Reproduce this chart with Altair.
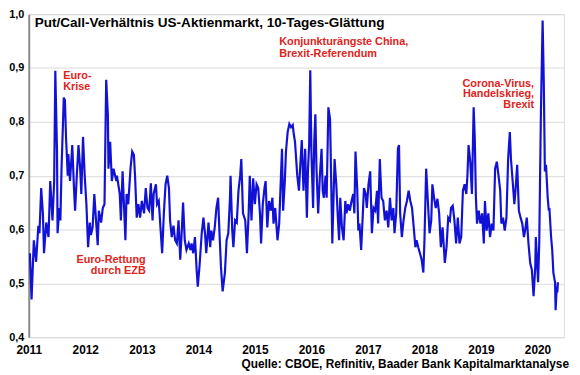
import altair as alt
import pandas as pd

# --- data (decimal year, put/call ratio) ---
years = [
    2011.02, 2011.05, 2011.09, 2011.13, 2011.17, 2011.19, 2011.22, 2011.25, 2011.27, 2011.31,
    2011.35, 2011.38, 2011.42, 2011.45, 2011.47, 2011.50, 2011.51, 2011.54, 2011.56, 2011.58,
    2011.62, 2011.64, 2011.66, 2011.69, 2011.70, 2011.73, 2011.77, 2011.80, 2011.82, 2011.85,
    2011.88, 2011.91, 2011.93, 2011.96, 2011.99, 2012.02, 2012.05, 2012.08, 2012.10, 2012.13,
    2012.16, 2012.19, 2012.22, 2012.24, 2012.28, 2012.31, 2012.34, 2012.37, 2012.40, 2012.41,
    2012.44, 2012.47, 2012.50, 2012.55, 2012.56, 2012.61, 2012.63, 2012.66, 2012.71, 2012.73,
    2012.76, 2012.80, 2012.83, 2012.86, 2012.88, 2012.91, 2012.94, 2012.97, 2013.00, 2013.04,
    2013.07, 2013.10, 2013.13, 2013.16, 2013.19, 2013.21, 2013.25, 2013.27, 2013.30, 2013.33,
    2013.36, 2013.39, 2013.42, 2013.45, 2013.48, 2013.50, 2013.53, 2013.56, 2013.59, 2013.62,
    2013.65, 2013.68, 2013.71, 2013.73, 2013.76, 2013.79, 2013.83, 2013.86, 2013.88, 2013.91,
    2013.94, 2013.97, 2013.99, 2014.02, 2014.06, 2014.09, 2014.12, 2014.14, 2014.18, 2014.21,
    2014.23, 2014.26, 2014.29, 2014.32, 2014.35, 2014.37, 2014.40, 2014.43, 2014.47, 2014.50,
    2014.53, 2014.56, 2014.57, 2014.60, 2014.62, 2014.65, 2014.68, 2014.71, 2014.74, 2014.76,
    2014.79, 2014.83, 2014.86, 2014.89, 2014.91, 2014.94, 2014.97, 2015.00, 2015.03, 2015.06,
    2015.09, 2015.11, 2015.14, 2015.17, 2015.19, 2015.22, 2015.25, 2015.28, 2015.31, 2015.33,
    2015.36, 2015.40, 2015.43, 2015.46, 2015.48, 2015.50, 2015.53, 2015.55, 2015.58, 2015.61,
    2015.64, 2015.67, 2015.69, 2015.71, 2015.75, 2015.78, 2015.80, 2015.83, 2015.86, 2015.89,
    2015.92, 2015.94, 2015.96, 2015.98, 2016.00, 2016.03, 2016.05, 2016.07, 2016.09, 2016.12,
    2016.15, 2016.18, 2016.20, 2016.22, 2016.25, 2016.27, 2016.30, 2016.33, 2016.35, 2016.37,
    2016.39, 2016.41, 2016.44, 2016.47, 2016.49, 2016.51, 2016.54, 2016.57, 2016.60, 2016.62,
    2016.65, 2016.68, 2016.71, 2016.74, 2016.76, 2016.78, 2016.81, 2016.83, 2016.85, 2016.88,
    2016.91, 2016.93, 2016.96, 2016.98, 2017.01, 2017.04, 2017.07, 2017.10, 2017.13, 2017.16,
    2017.18, 2017.21, 2017.24, 2017.27, 2017.30, 2017.33, 2017.36, 2017.39, 2017.42, 2017.45,
    2017.47, 2017.50, 2017.53, 2017.55, 2017.57, 2017.60, 2017.63, 2017.66, 2017.69, 2017.72,
    2017.75, 2017.78, 2017.81, 2017.84, 2017.86, 2017.89, 2017.92, 2017.95, 2017.98, 2018.00,
    2018.03, 2018.06, 2018.09, 2018.12, 2018.14, 2018.17, 2018.20, 2018.23, 2018.26, 2018.29,
    2018.32, 2018.35, 2018.36, 2018.39, 2018.42, 2018.45, 2018.47, 2018.50, 2018.53, 2018.56,
    2018.59, 2018.62, 2018.65, 2018.68, 2018.71, 2018.74, 2018.76, 2018.78, 2018.81, 2018.84,
    2018.87, 2018.89, 2018.91, 2018.93, 2018.96, 2018.99, 2019.02, 2019.05, 2019.07, 2019.10,
    2019.13, 2019.16, 2019.19, 2019.22, 2019.25, 2019.28, 2019.31, 2019.34, 2019.36, 2019.39,
    2019.42, 2019.45, 2019.48, 2019.51, 2019.53, 2019.56, 2019.59, 2019.61, 2019.64, 2019.67,
    2019.70, 2019.73, 2019.76, 2019.78, 2019.81, 2019.84, 2019.87, 2019.90, 2019.93, 2019.96,
    2019.97, 2020.01, 2020.03, 2020.06, 2020.09, 2020.11, 2020.13, 2020.15, 2020.18, 2020.20,
    2020.21, 2020.24, 2020.26, 2020.28, 2020.31, 2020.32, 2020.34, 2020.35, 2020.36,
]

put_call = [
    0.556, 0.470, 0.580, 0.540, 0.607, 0.593, 0.677, 0.630, 0.556, 0.613,
    0.586, 0.690, 0.617, 0.690, 0.895, 0.745, 0.593, 0.640, 0.617, 0.713,
    0.845, 0.840, 0.770, 0.700, 0.740, 0.690, 0.757, 0.677, 0.635, 0.700,
    0.757, 0.713, 0.666, 0.772, 0.700, 0.647, 0.567, 0.613, 0.590, 0.604,
    0.666, 0.617, 0.571, 0.635, 0.613, 0.640, 0.647, 0.878, 0.812, 0.713,
    0.763, 0.690, 0.713, 0.690, 0.700, 0.666, 0.617, 0.708, 0.580, 0.666,
    0.647, 0.713, 0.745, 0.739, 0.700, 0.622, 0.647, 0.622, 0.653, 0.630,
    0.677, 0.640, 0.635, 0.686, 0.617, 0.666, 0.684, 0.647, 0.653, 0.604,
    0.556, 0.630, 0.684, 0.700, 0.677, 0.617, 0.586, 0.607, 0.580, 0.574,
    0.617, 0.544, 0.604, 0.650, 0.580, 0.562, 0.574, 0.562, 0.574, 0.556,
    0.586, 0.525, 0.494, 0.531, 0.593, 0.622, 0.590, 0.556, 0.613, 0.567,
    0.598, 0.580, 0.604, 0.640, 0.659, 0.604, 0.531, 0.485, 0.520, 0.580,
    0.593, 0.659, 0.700, 0.598, 0.567, 0.617, 0.613, 0.672, 0.700, 0.731,
    0.630, 0.617, 0.556, 0.630, 0.700, 0.617, 0.695, 0.647, 0.684, 0.677,
    0.630, 0.574, 0.647, 0.677, 0.690, 0.604, 0.653, 0.635, 0.659, 0.611,
    0.640, 0.580, 0.611, 0.695, 0.750, 0.635, 0.690, 0.745, 0.781, 0.796,
    0.790, 0.794, 0.776, 0.763, 0.700, 0.672, 0.713, 0.766, 0.672, 0.750,
    0.622, 0.713, 0.757, 0.896, 0.745, 0.640, 0.763, 0.814, 0.713, 0.630,
    0.700, 0.750, 0.672, 0.659, 0.700, 0.659, 0.827, 0.805, 0.690, 0.574,
    0.653, 0.731, 0.684, 0.617, 0.580, 0.659, 0.604, 0.580, 0.653, 0.630,
    0.647, 0.635, 0.653, 0.666, 0.630, 0.745, 0.677, 0.598, 0.611, 0.562,
    0.630, 0.677, 0.666, 0.640, 0.684, 0.708, 0.593, 0.640, 0.635, 0.672,
    0.611, 0.731, 0.659, 0.653, 0.617, 0.635, 0.604, 0.659, 0.617, 0.640,
    0.593, 0.630, 0.750, 0.757, 0.630, 0.586, 0.617, 0.640, 0.653, 0.672,
    0.653, 0.640, 0.604, 0.567, 0.580, 0.567, 0.556, 0.544, 0.520, 0.580,
    0.713, 0.653, 0.593, 0.617, 0.684, 0.659, 0.640, 0.657, 0.630, 0.567,
    0.604, 0.556, 0.538, 0.567, 0.622, 0.617, 0.640, 0.644, 0.617, 0.574,
    0.622, 0.574, 0.586, 0.672, 0.684, 0.666, 0.700, 0.757, 0.726, 0.666,
    0.827, 0.770, 0.659, 0.611, 0.635, 0.611, 0.630, 0.574, 0.653, 0.598,
    0.630, 0.586, 0.611, 0.598, 0.713, 0.726, 0.700, 0.672, 0.611, 0.622,
    0.598, 0.622, 0.731, 0.781, 0.731, 0.690, 0.647, 0.672, 0.720, 0.635,
    0.622, 0.611, 0.586, 0.598, 0.622, 0.574, 0.538, 0.525, 0.476, 0.531,
    0.586, 0.502, 0.574, 0.818, 0.988, 0.878, 0.708, 0.720, 0.659, 0.635,
    0.640, 0.586, 0.562, 0.520, 0.502, 0.450, 0.494, 0.483, 0.502,
]

x_ticks = [2011, 2012, 2013, 2014, 2015, 2016, 2017, 2018, 2019, 2020]
y_ticks = [0.4, 0.5, 0.6, 0.7, 0.8, 0.9, 1.0]

# annotations (anchored in data coordinates)
ann_left_text = ["Euro-", "Krise", "Konjunkturängste China,", "Brexit-Referendum"]
ann_left_year = [2011.61, 2011.61, 2015.43, 2015.43]
ann_left_val = [0.886, 0.865, 0.948, 0.926]

ann_right_text = ["Euro-Rettung", "durch EZB", "Corona-Virus,", "Handelskrieg,", "Brexit"]
ann_right_year = [2013.07, 2013.07, 2019.94, 2019.94, 2019.94]
ann_right_val = [0.544, 0.523, 0.871, 0.851, 0.831]

title_text = "Put/Call-Verhältnis US-Aktienmarkt, 10-Tages-Glättung"
source_text = "Quelle: CBOE, Refinitiv, Baader Bank Kapitalmarktanalyse"

# --- chart ---
FONT = "Liberation Sans"
RED = "#e2231a"
BLUE = "#1212d6"
W, H = 542, 327

df = pd.DataFrame({"Jahr": years, "PutCall": put_call})
df_l = pd.DataFrame({"Jahr": ann_left_year, "PutCall": ann_left_val, "txt": ann_left_text})
df_r = pd.DataFrame({"Jahr": ann_right_year, "PutCall": ann_right_val, "txt": ann_right_text})

xscale = alt.Scale(domain=[2011, 2020.47], nice=False, zero=False)
yscale = alt.Scale(domain=[0.4, 1.0], nice=False, zero=False)

x_enc = alt.X(
    "Jahr:Q", scale=xscale,
    axis=alt.Axis(values=x_ticks, format="d", title=None, grid=False, ticks=False,
                  domain=False, labelFont=FONT, labelFontWeight="bold", labelFontSize=12,
                  labelColor="black", labelPadding=8, labelFlush=False),
)
y_enc = alt.Y(
    "PutCall:Q", scale=yscale,
    axis=alt.Axis(values=y_ticks, labelExpr="replace(format(datum.value, '.1f'), '.', ',')",
                  title=None, grid=True, gridColor="#d9d9d9", gridWidth=1, ticks=False,
                  domainColor="#8c8c8c", domainWidth=2, labelFont=FONT,
                  labelFontWeight="bold", labelFontSize=11, labelColor="black",
                  labelPadding=5, labelFlush=False),
)

line = alt.Chart(df).mark_line(color=BLUE, strokeWidth=2.2, clip=True).encode(x=x_enc, y=y_enc)

ann_l = alt.Chart(df_l).mark_text(
    align="left", baseline="middle", font=FONT, fontWeight="bold", fontSize=11, color=RED
).encode(x="Jahr:Q", y="PutCall:Q", text="txt:N")

ann_r = alt.Chart(df_r).mark_text(
    align="right", baseline="middle", font=FONT, fontWeight="bold", fontSize=11, color=RED
).encode(x="Jahr:Q", y="PutCall:Q", text="txt:N")

title = alt.Chart(pd.DataFrame({"t": [title_text]})).mark_text(
    align="left", baseline="middle", font=FONT, fontWeight="bold", fontSize=13.7, color="black"
).encode(x=alt.value(6), y=alt.value(9), text="t:N")

source = alt.Chart(pd.DataFrame({"t": [source_text]})).mark_text(
    align="right", baseline="middle", font=FONT, fontWeight="bold", fontSize=12, color="black"
).encode(x=alt.value(547), y=alt.value(354), text="t:N")

chart = (
    alt.layer(line, ann_l, ann_r, title, source)
    .properties(width=W, height=H, autosize=alt.AutoSizeParams(type="none"),
                padding={"left": 21, "top": 4, "right": 8, "bottom": 32})
    .configure_view(stroke="#a6a6a6", strokeWidth=1)
    .configure(background="white")
)

chart.save("out.html", embed_options={"renderer": "svg", "actions": False})
